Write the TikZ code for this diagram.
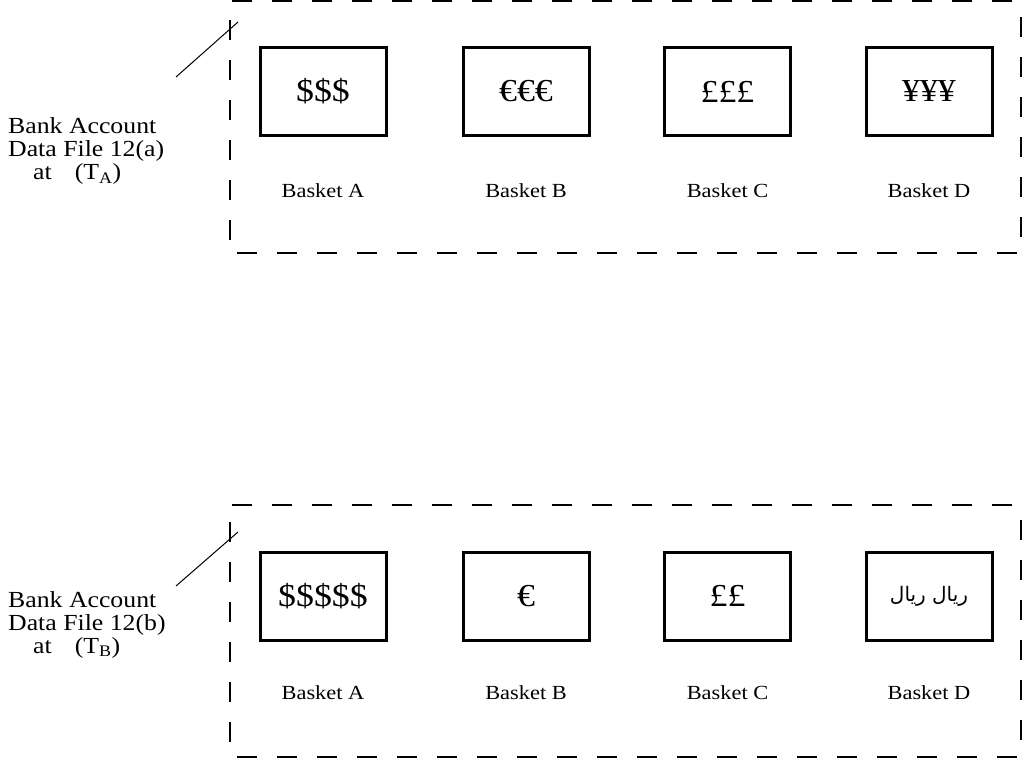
\documentclass[tikz,border=0pt]{standalone}
\usepackage{fontspec}
\setmainfont[FakeStretch=1.12]{Liberation Serif}
\newfontfamily\arabicfont[Script=Arabic]{DejaVu Sans}
\TeXXeTstate=1
\tikzset{
  outer/.style={dash pattern=on 20pt off 20pt, line width=1.6pt},
  outerR/.style={dash pattern=on 20pt off 20pt, line width=2.4pt},
  basket/.style={draw, line width=3pt, minimum width=126pt, minimum height=88pt, inner sep=0pt, font=\fontsize{32}{32}\selectfont},
  lab/.style={anchor=base, font=\fontsize{20}{20}\selectfont},
  side/.style={anchor=base west, font=\fontsize{23}{24}\selectfont, inner sep=0pt},
  leader/.style={line width=1pt}
}
\begin{document}
\begin{tikzpicture}[x=1pt,y=-1pt]
\useasboundingbox (0,0) rectangle (1024,759);
% ---------- top group ----------
\coordinate (t1) at (232,1);   \coordinate (t2) at (1024,1);
\coordinate (l1) at (230,20);  \coordinate (l2) at (230,242);
\coordinate (b1) at (237,253); \coordinate (b2) at (1024,253);
\coordinate (r1) at (1021,17); \coordinate (r2) at (1021,240);
\draw[outer] (t1) -- (t2);
\draw[outer] (l1) -- (l2);
\draw[outer] (b1) -- (b2);
\draw[outerR] (r1) -- (r2);

\node[basket] (a1) at (323,91.5) {\$\$\$};
\node[basket] (b1n) at (526,91.5) {€€€};
\node[basket] (c1) at (727.5,91.5) {£££};
\node[basket] (d1) at (929,91.5) {¥¥¥};

\node[lab] (la1) at (323,198) {Basket A};
\node[lab] (lb1) at (526,198) {Basket B};
\node[lab] (lc1) at (727.5,198) {Basket C};
\node[lab] (ld1) at (929,198) {Basket D};

\node[side] (s1a) at (8,134) {Bank Account};
\node[side] (s1b) at (8,157) {Data File 12(a)};
\node[side] (s1c) at (33,180) {at\quad(T\textsubscript{A})};
\coordinate (ld1s) at (176,77);
\coordinate (ld1e) at (238,22);
\draw[leader] (ld1s) -- (ld1e);

% ---------- bottom group ----------
\coordinate (t3) at (232,505);  \coordinate (t4) at (1024,505);
\coordinate (l3) at (230,522);  \coordinate (l4) at (230,745);
\coordinate (b3) at (237,757);  \coordinate (b4) at (1024,757);
\coordinate (r3) at (1021,520); \coordinate (r4) at (1021,742);
\draw[outer] (t3) -- (t4);
\draw[outer] (l3) -- (l4);
\draw[outer] (b3) -- (b4);
\draw[outerR] (r3) -- (r4);

\node[basket] (a2) at (323,596) {\$\$\$\$\$};
\node[basket] (b2n) at (526,596) {€};
\node[basket] (c2) at (727.5,596) {££};
\node[basket] (d2) at (929,596) {\arabicfont\fontsize{20}{20}\selectfont\beginR ريال ريال\endR};

\node[lab] (la2) at (323,699) {Basket A};
\node[lab] (lb2) at (526,699) {Basket B};
\node[lab] (lc2) at (727.5,699) {Basket C};
\node[lab] (ld2) at (929,699) {Basket D};

\node[side] (s2a) at (8,607) {Bank Account};
\node[side] (s2b) at (8,630) {Data File 12(b)};
\node[side] (s2c) at (33,653) {at\quad(T\textsubscript{B})};
\coordinate (ld2s) at (176,586);
\coordinate (ld2e) at (238,532);
\draw[leader] (ld2s) -- (ld2e);
\end{tikzpicture}
\end{document}
